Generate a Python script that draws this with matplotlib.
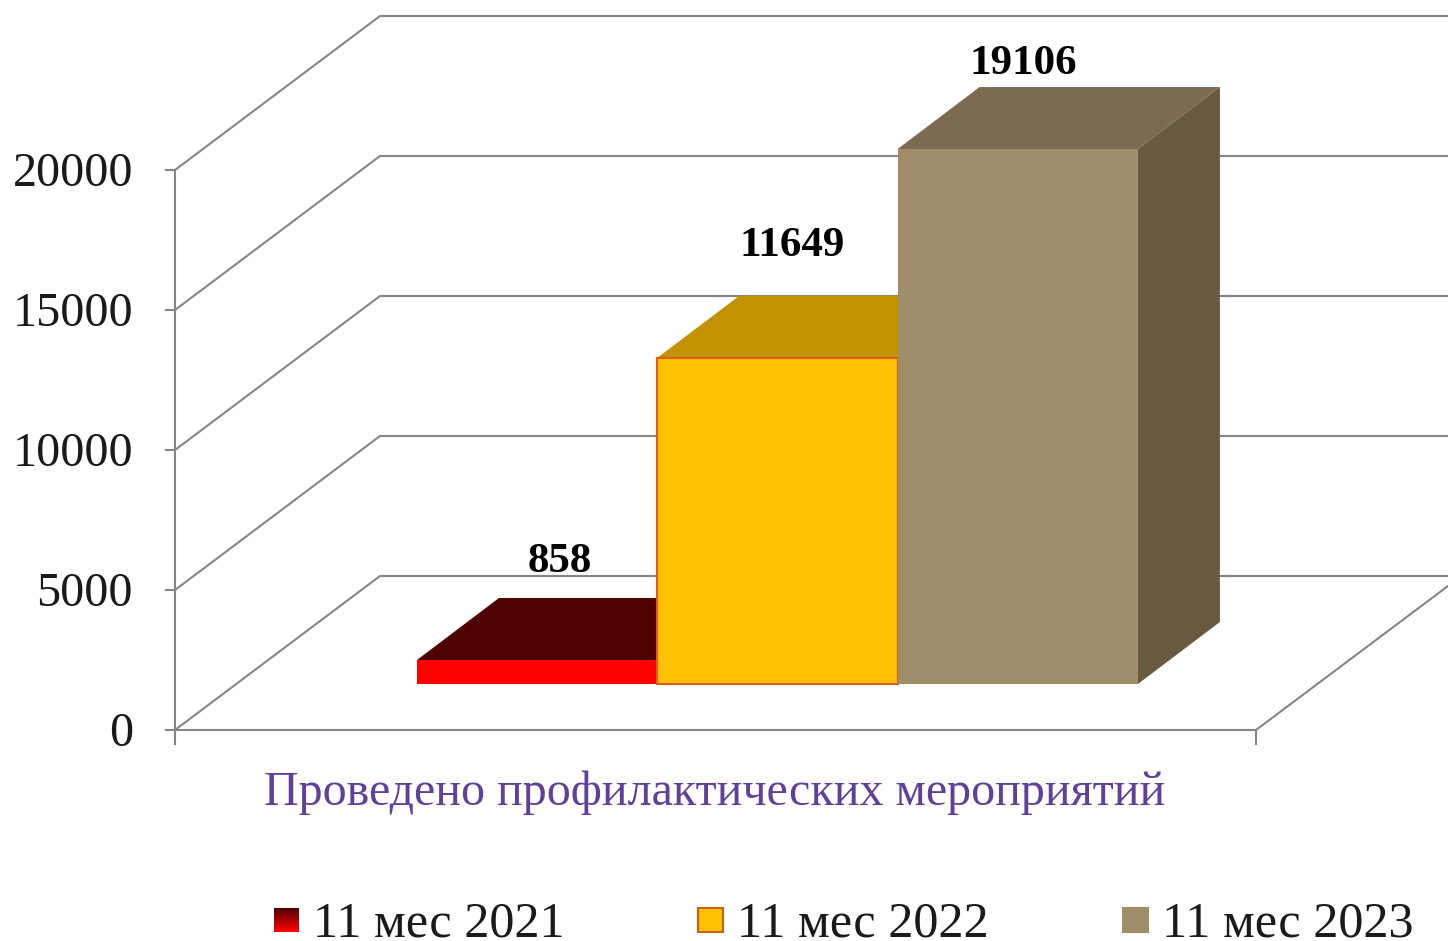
#!/usr/bin/env python3
# -*- coding: utf-8 -*-
import matplotlib
matplotlib.use('Agg')
import matplotlib.pyplot as plt
from matplotlib.patches import Polygon, Rectangle
from matplotlib.colors import LinearSegmentedColormap
import numpy as np

#______________________________DATA____________________________________________
series_names = ['11 мес 2021', '11 мес 2022', '11 мес 2023']
values = [858, 11649, 19106]
y_ticks = [0, 5000, 10000, 15000, 20000]
category_label = 'Проведено профилактических мероприятий'

front_colors = ['#FF0000', '#FFC000', '#A08E6A']
top_colors = ['#4E0000', '#C29200', '#7B6B50']
side_colors = ['#4E0000', '#C29200', '#685A41']
edge_colors = ['none', '#D8601A', 'none']
legend_edges = ['#C00000', '#C8601A', '#A08E6A']

#______________________________GEOMETRY________________________________________
W, H = 1448, 941
X0, Y0 = 175, 730        # origin of the front plane
X1 = 1256                # right end of the floor, front
PX_PER_UNIT = 0.028
WALL_DX, WALL_DY = 205, -154
BAR_X = 417
BAR_W = 240.3
BAR_BASE = 684
BAR_DX, BAR_DY = 82, -62
GRID = '#858585'

plt.rcParams['font.family'] = ['Liberation Serif', 'DejaVu Serif']


def val_y(v, base=Y0):
    return base - v * PX_PER_UNIT


fig = plt.figure(figsize=(W / 100, H / 100), dpi=100)
ax = fig.add_axes([0, 0, 1, 1])
ax.set_xlim(0, W)
ax.set_ylim(H, 0)
ax.axis('off')

#______________________________WALLS___________________________________________
for t in y_ticks:
    y = val_y(t)
    # depth line on the left wall, then the line along the back wall
    ax.plot([X0, X0 + WALL_DX, W], [y, y + WALL_DY, y + WALL_DY],
            color=GRID, lw=1.5, zorder=1, solid_joinstyle='miter')
    ax.plot([X0 - 9, X0], [y, y], color=GRID, lw=1.5, zorder=1)
    ax.text(133, y + 4, str(t), fontsize=34.7, ha='right', va='center',
            color='#1a1a1a', zorder=5)

ax.plot([X0, X0], [val_y(0) + 14, val_y(20000)], color=GRID, lw=1.5, zorder=1)
ax.plot([X0, X1], [Y0, Y0], color=GRID, lw=1.5, zorder=1)
ax.plot([X1, X1], [Y0, Y0 + 14], color=GRID, lw=1.5, zorder=1)
ax.plot([X1, X1 + 192], [Y0, Y0 - 144], color=GRID, lw=1.5, zorder=1)

#______________________________BARS____________________________________________
for i, v in enumerate(values):
    left = BAR_X + i * BAR_W
    right = left + BAR_W
    top = val_y(v, BAR_BASE)
    ax.add_patch(Polygon([(left, top), (left + BAR_DX, top + BAR_DY),
                          (right + BAR_DX, top + BAR_DY), (right, top)],
                         fc=top_colors[i], ec='none', zorder=2 + i))
    ax.add_patch(Polygon([(right, top), (right + BAR_DX, top + BAR_DY),
                          (right + BAR_DX, BAR_BASE + BAR_DY), (right, BAR_BASE)],
                         fc=side_colors[i], ec='none', zorder=2 + i))
    ax.add_patch(Rectangle((left, top), BAR_W, BAR_BASE - top,
                           fc=front_colors[i], ec=edge_colors[i], lw=1.5, zorder=2 + i))

#______________________________LABELS__________________________________________
label_x = [560, 792, 1023]
label_y = [562, 246, 64]
for i, v in enumerate(values):
    ax.text(label_x[i], label_y[i], str(v), fontsize=31, fontweight='bold',
            ha='center', va='center', color='black', zorder=6)

ax.text(715, 793, category_label, fontsize=34.6, ha='center', va='center',
        color='#60409A', zorder=6)

#______________________________LEGEND__________________________________________
legend_x = [274, 698, 1123]
cmap = LinearSegmentedColormap.from_list('red_key', ['#520000', '#FF0000'])
for i, name in enumerate(series_names):
    if i == 0:
        grad = np.linspace(0, 1, 24).reshape(-1, 1)
        ax.imshow(grad, extent=(legend_x[i], legend_x[i] + 25, 932, 908),
                  cmap=cmap, aspect='auto', zorder=3)
    else:
        ax.add_patch(Rectangle((legend_x[i], 908), 25, 24, fc=front_colors[i],
                               ec=legend_edges[i], lw=1.5, zorder=3))
    ax.text(legend_x[i] + 39, 924, name, fontsize=36.2, ha='left', va='center',
            color='#1a1a1a', zorder=6)
ax.set_xlim(0, W)
ax.set_ylim(H, 0)

fig.savefig('out.png', dpi=100)
